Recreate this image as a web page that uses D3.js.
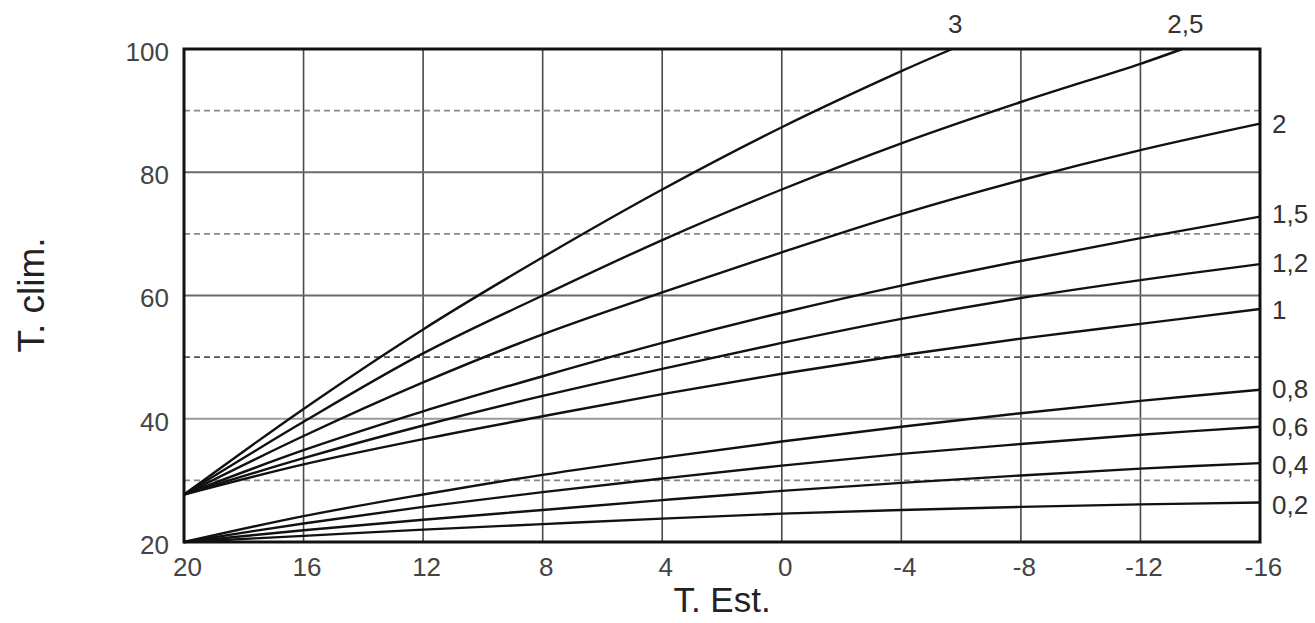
<!DOCTYPE html>
<html>
<head>
<meta charset="utf-8">
<script src="https://cdn.jsdelivr.net/npm/d3@7"></script>
<style>
  html, body { margin: 0; padding: 0; background: #fff; }
  svg { display: block; font-family: "Liberation Sans", Arial, sans-serif; }
</style>
</head>
<body>
<svg id="chart" width="1315" height="623"></svg>
<script>
// ---- data ----
const tempsOut = [20, 16, 12, 8, 4, 0, -4, -8, -12, -16];
const xTickLabels = ["20", "16", "12", "8", "4", "0", "-4", "-8", "-12", "-16"];
const yTicks = [20, 40, 60, 80, 100];
const yDashed = [30, 50, 70, 90];
const seriesNames = ["3", "2,5", "2", "1,5", "1,2", "1", "0,8", "0,6", "0,4", "0,2"];
const curve3   = [27.7, 41.6, 54.5, 66.2, 77.2, 87.3, 96.4];
const curve25  = [27.7, 39.5, 50.6, 60.0, 69.0, 77.2, 84.7, 91.4, 97.6];
const curve2   = [27.7, 37.2, 45.9, 53.7, 60.5, 67.0, 73.2, 78.7, 83.6, 87.9];
const curve15  = [27.7, 34.9, 41.2, 46.9, 52.3, 57.2, 61.6, 65.6, 69.3, 72.8];
const curve12  = [27.7, 33.6, 38.9, 43.7, 48.1, 52.3, 56.2, 59.6, 62.5, 65.1];
const curve1   = [27.7, 32.6, 36.7, 40.4, 44.0, 47.3, 50.3, 53.0, 55.4, 57.8];
const curve08  = [20, 24.2, 27.7, 30.9, 33.7, 36.3, 38.7, 40.9, 42.9, 44.7];
const curve06  = [20, 23.0, 25.7, 28.1, 30.3, 32.4, 34.3, 35.9, 37.4, 38.7];
const curve04  = [20, 21.9, 23.6, 25.2, 26.8, 28.3, 29.6, 30.8, 31.9, 32.8];
const curve02  = [20, 21.0, 22.0, 22.9, 23.8, 24.6, 25.2, 25.7, 26.1, 26.4];
// where the steep curves leave the top of the chart (T. Est., T. clim.)
const curve3End  = [-5.7, 100];
const curve25End = [-13.4, 100];

// ---- layout ----
const svg = d3.select("#chart");
const x = d3.scaleLinear().domain([20, -16]).range([184, 1260]);
const y = d3.scaleLinear().domain([20, 100]).range([542, 49]);

function pts(vals, end) {
  const p = vals.map((v, i) => [tempsOut[i], v]);
  if (end) p.push(end);
  return p;
}
const seriesValues = [curve3, curve25, curve2, curve15, curve12, curve1, curve08, curve06, curve04, curve02];
const seriesEnds = [curve3End, curve25End, null, null, null, null, null, null, null, null];
const series = seriesNames.map((name, i) => ({ name, p: pts(seriesValues[i], seriesEnds[i]) }));

// vertical grid
svg.append("g").selectAll("line").data(tempsOut.slice(1, -1)).join("line")
  .attr("x1", d => x(d)).attr("x2", d => x(d))
  .attr("y1", y(20)).attr("y2", y(100))
  .attr("stroke", "#4a4a4a").attr("stroke-width", 1.6);

// horizontal solid grid
svg.append("g").selectAll("line").data([40, 60, 80]).join("line")
  .attr("x1", x(20)).attr("x2", x(-16))
  .attr("y1", d => y(d)).attr("y2", d => y(d))
  .attr("stroke", d => d === 40 ? "#9a9a9a" : "#6a6a6a").attr("stroke-width", 2);

// horizontal dashed grid
svg.append("g").selectAll("line").data(yDashed).join("line")
  .attr("x1", x(20)).attr("x2", x(-16))
  .attr("y1", d => y(d)).attr("y2", d => y(d))
  .attr("stroke", d => d === 50 ? "#555" : "#888").attr("stroke-width", 1.6)
  .attr("stroke-dasharray", "6,4");

// curves
const line = d3.line().x(d => x(d[0])).y(d => y(d[1])).curve(d3.curveCatmullRom.alpha(0.5));
svg.append("g").selectAll("path").data(series).join("path")
  .attr("d", d => line(d.p))
  .attr("fill", "none").attr("stroke", "#111").attr("stroke-width", 2.4);

// frame
svg.append("rect")
  .attr("x", x(20)).attr("y", y(100))
  .attr("width", x(-16) - x(20)).attr("height", y(20) - y(100))
  .attr("fill", "none").attr("stroke", "#111").attr("stroke-width", 3);

// y axis labels
const yAxis = d3.axisLeft(y).tickValues(yTicks).tickSize(0).tickPadding(15);
const gy = svg.append("g").attr("transform", `translate(${x(20)},3)`).call(yAxis);
gy.select(".domain").remove();
gy.selectAll("text").attr("font-size", 26).attr("fill", "#444")
  .attr("font-family", "Liberation Sans, Arial, sans-serif");

// x axis labels
const xAxis = d3.axisBottom(x).tickValues(tempsOut).tickSize(0).tickPadding(16)
  .tickFormat((d, i) => xTickLabels[i]);
const gx = svg.append("g").attr("transform", `translate(3,${y(20)})`).call(xAxis);
gx.select(".domain").remove();
gx.selectAll("text").attr("font-size", 26).attr("fill", "#444")
  .attr("font-family", "Liberation Sans, Arial, sans-serif");

// axis titles
svg.append("text").attr("x", 722).attr("y", 612).attr("text-anchor", "middle")
  .attr("font-size", 35).attr("fill", "#222").text("T. Est.");
svg.append("text").attr("transform", "translate(44,295) rotate(-90)")
  .attr("text-anchor", "middle").attr("font-size", 37).attr("fill", "#222").text("T. clim.");

// curve labels
const rightOffsets = { "2": 0, "1,5": -3, "1,2": -1, "1": 1, "0,8": -1, "0,6": 0, "0,4": 2, "0,2": 2 };
svg.append("g").selectAll("text").data(series.filter(s => s.name in rightOffsets)).join("text")
  .attr("x", x(-16) + 12)
  .attr("y", d => y(d.p[d.p.length - 1][1]) + rightOffsets[d.name])
  .attr("dy", "0.36em")
  .attr("font-size", 26).attr("fill", "#333").text(d => d.name);

svg.append("g").selectAll("text").data(series.filter(s => ["3", "2,5"].includes(s.name))).join("text")
  .attr("x", d => x(d.p[d.p.length - 1][0]) + 3)
  .attr("y", 33)
  .attr("text-anchor", "middle")
  .attr("font-size", 26).attr("fill", "#333").text(d => d.name);
</script>
</body>
</html>
